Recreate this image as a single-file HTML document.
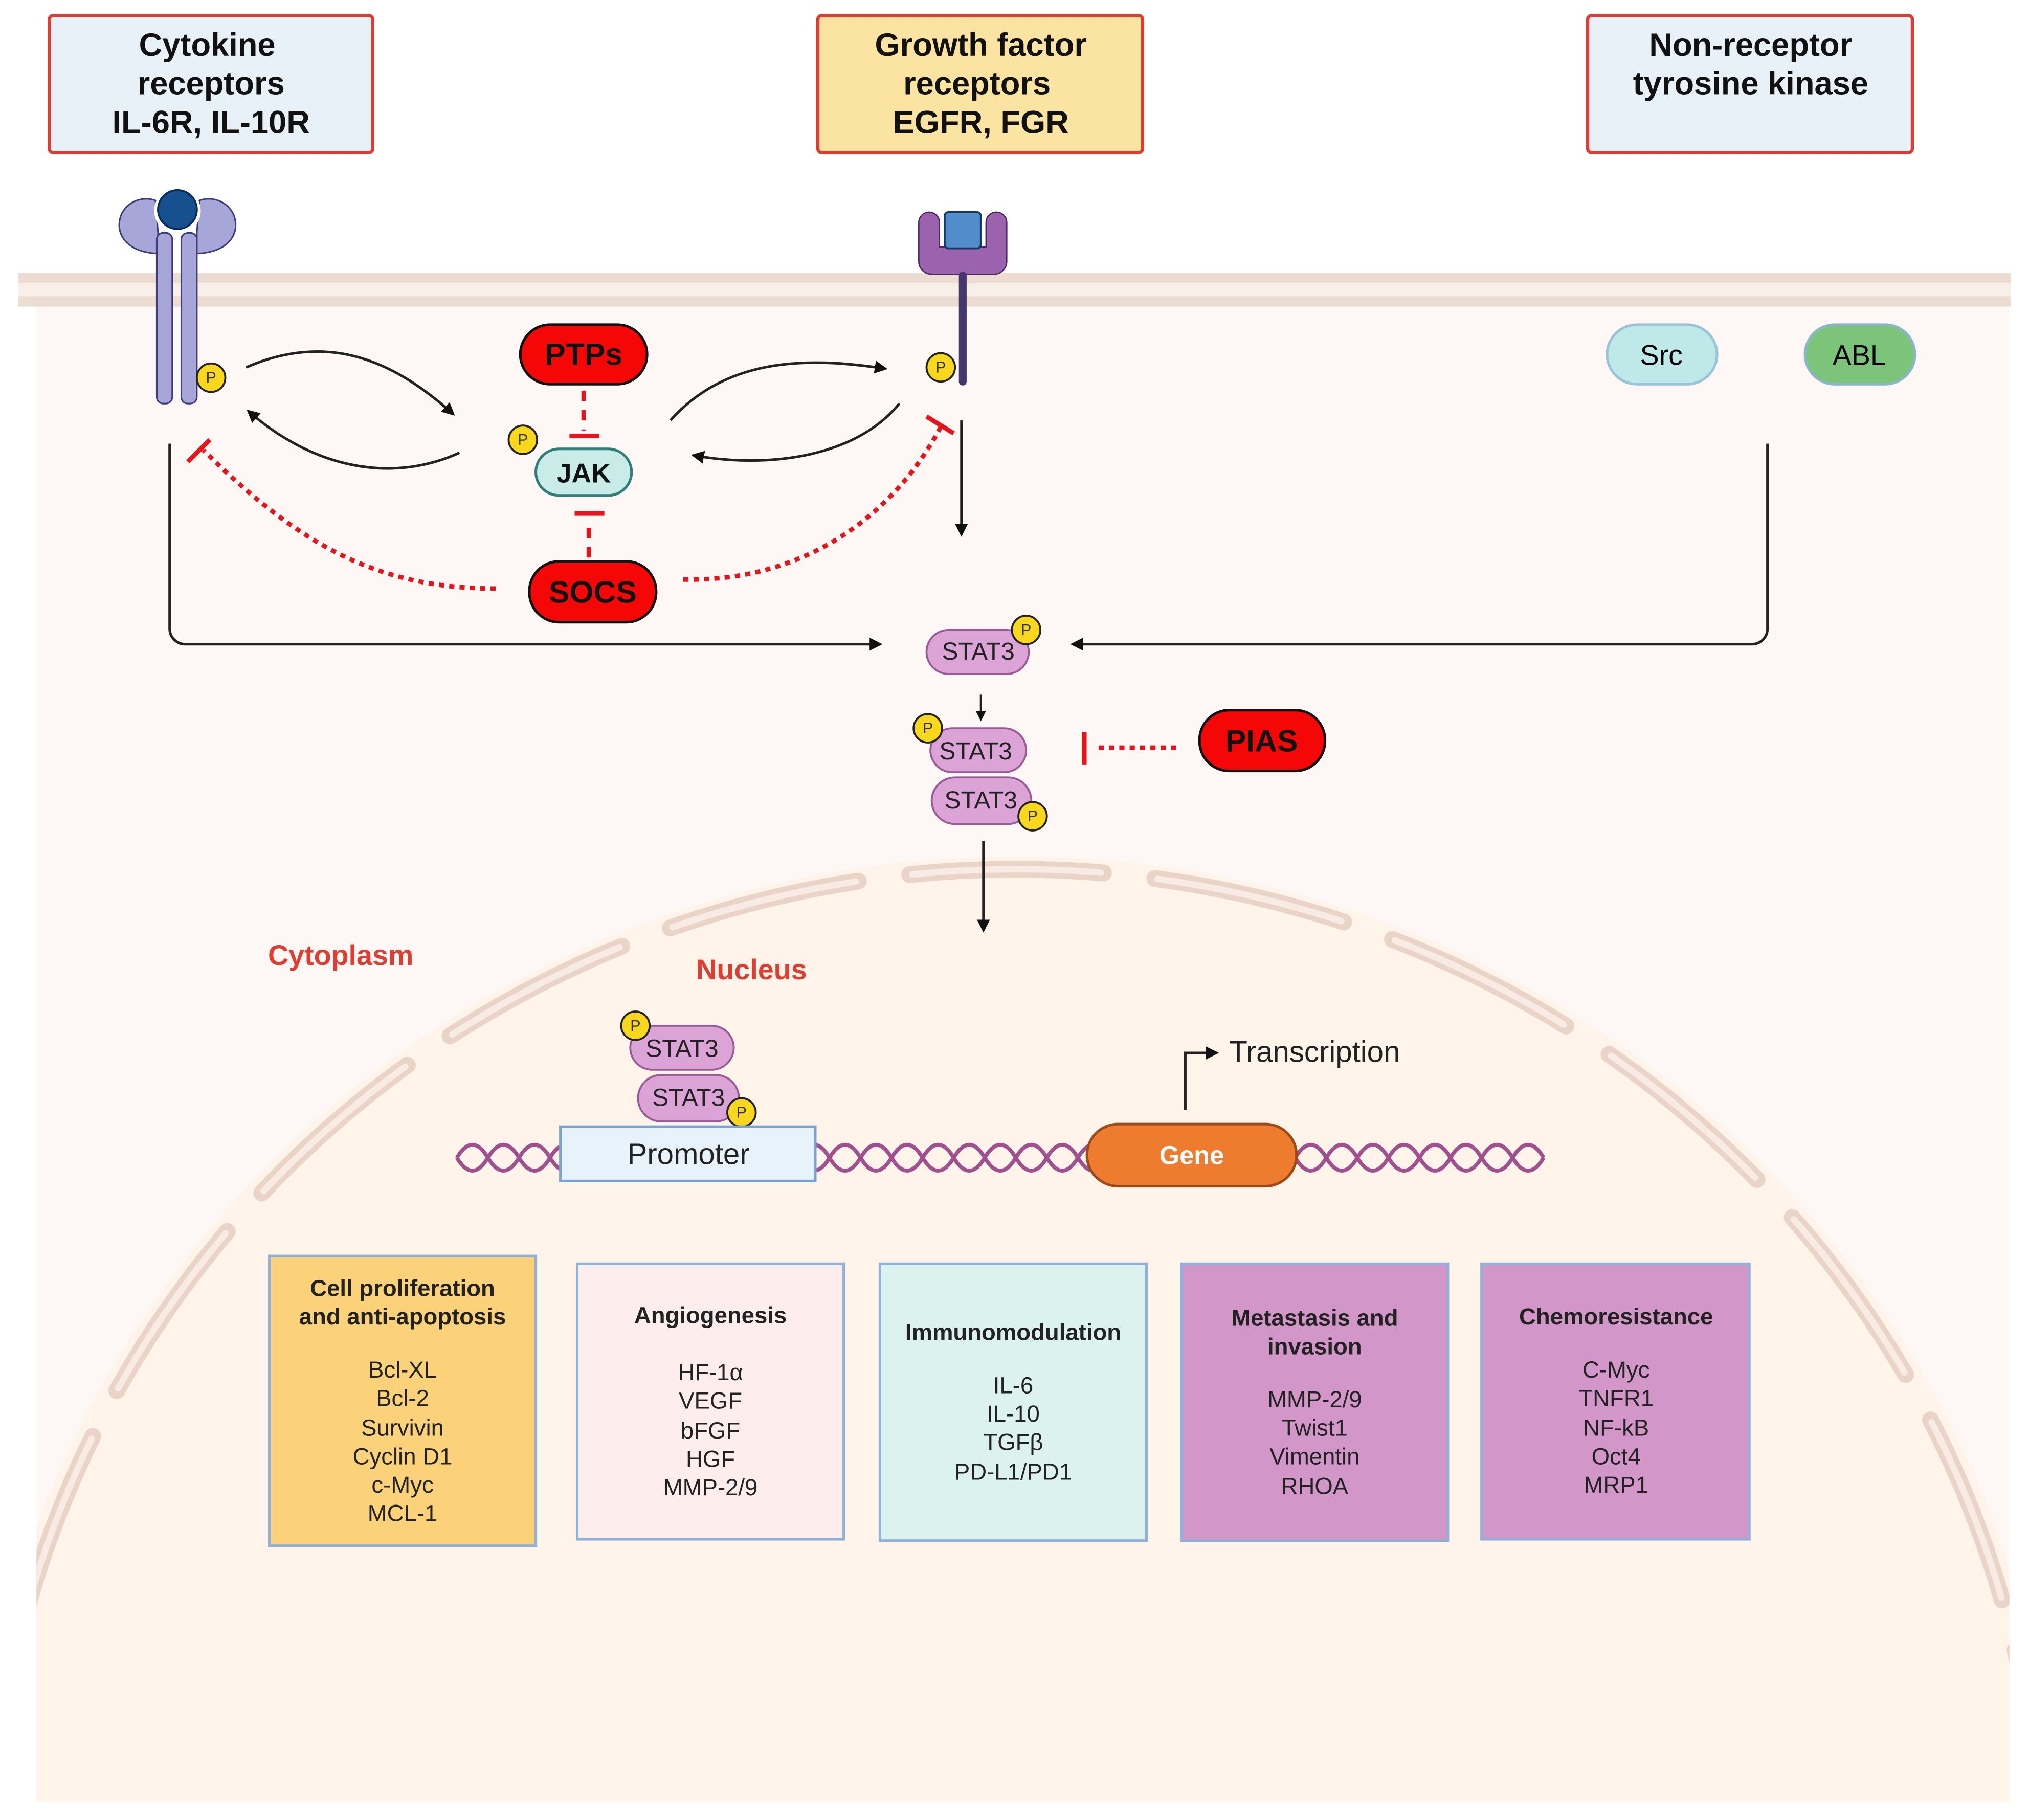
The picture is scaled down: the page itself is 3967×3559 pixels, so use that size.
<!DOCTYPE html>
<html><head><meta charset="utf-8"><style>
html,body{margin:0;padding:0;background:#fff;overflow:hidden;width:3967px;height:3559px;position:relative;}
svg{display:block;position:absolute;left:0;top:0;}
text{font-family:"Liberation Sans",sans-serif;}
</style></head><body>
<svg width="3967" height="3559" viewBox="0 0 1568 1407" xmlns="http://www.w3.org/2000/svg" overflow="hidden">
<defs>
<marker id="ar" viewBox="0 0 10 10" refX="8" refY="5" markerWidth="5" markerHeight="5" orient="auto"><path d="M0,0 L10,5 L0,10 Z" fill="#111"/></marker>
<clipPath id="cy"><rect x="28" y="236" width="1525" height="1157"/></clipPath>
</defs>
<rect width="1568" height="1407" fill="#fff"/>
<rect x="28" y="236" width="1525" height="1157" fill="#fdf8f5"/>
<rect x="14" y="211" width="1540" height="26" fill="#f8efe9"/>
<rect x="14" y="211" width="1540" height="8" fill="#ecdcd2"/>
<rect x="14" y="229" width="1540" height="8" fill="#ecdcd2"/>
<g clip-path="url(#cy)">
<ellipse cx="785" cy="1447" rx="805" ry="785" fill="#fef4ea"/>
<ellipse cx="785" cy="1447" rx="792" ry="775" fill="none" stroke="#ead3c7" stroke-width="13" stroke-linecap="round" stroke-dasharray="150 40"/>
<ellipse cx="785" cy="1447" rx="792" ry="775" fill="none" stroke="#f7ebe4" stroke-width="5" stroke-linecap="round" stroke-dasharray="146 44" stroke-dashoffset="-2"/>
</g>
<rect x="14" y="1393" width="1554" height="14" fill="#fff"/>

<g font-weight="bold" font-size="25" text-anchor="middle" fill="#111">
<rect x="38" y="12" width="250" height="106" rx="3" fill="#e8f0f8" stroke="#e03c31" stroke-width="2.5"/>
<text x="160" y="43">Cytokine</text><text x="163" y="73">receptors</text><text x="163" y="103">IL-6R, IL-10R</text>
<rect x="632" y="12" width="251" height="106" rx="3" fill="#fbe3a2" stroke="#e03c31" stroke-width="2.5"/>
<text x="758" y="43">Growth factor</text><text x="755" y="73">receptors</text><text x="758" y="103">EGFR, FGR</text>
<rect x="1227" y="12" width="251" height="106" rx="3" fill="#e8f0f8" stroke="#e03c31" stroke-width="2.5"/>
<text x="1353" y="43">Non-receptor</text><text x="1353" y="73">tyrosine kinase</text>
</g>

<g stroke="#3f3b78" stroke-width="1.2" fill="#a6a6d8">
<path d="M122,196 C95,195 88,178 94,165 C100,154 112,152 120,155 L122,180 Z"/>
<path d="M152,196 C179,195 186,178 180,165 C174,154 162,152 154,155 L152,180 Z"/>
<rect x="121" y="180" width="12" height="132" rx="5"/>
<rect x="140" y="180" width="12" height="132" rx="5"/>
</g>
<circle cx="137" cy="163" r="18" fill="#fff"/>
<circle cx="137" cy="162" r="15" fill="#16508f" stroke="#0a2c57" stroke-width="1.5"/>
<path d="M710,172 a8,8 0 0 1 16,0 v19 h36 v-19 a8,8 0 0 1 16,0 v30 a10,10 0 0 1 -10,10 h-48 a10,10 0 0 1 -10,-10 Z" fill="#9b62ad" stroke="#4a2560" stroke-width="1"/>
<rect x="730" y="164" width="28" height="28" rx="3" fill="#538ccb" stroke="#133a66" stroke-width="1.5"/>
<rect x="741" y="210" width="6" height="88" rx="3" fill="#43386e"/>

<rect x="1242" y="251" width="85" height="46" rx="23" fill="#bfe9e8" stroke="#98c3d8" stroke-width="2"/>
<text x="1284" y="282" font-size="22" text-anchor="middle">Src</text>
<rect x="1395" y="251" width="85" height="46" rx="23" fill="#7cc47a" stroke="#8ab6c8" stroke-width="2"/>
<text x="1437" y="282" font-size="22" text-anchor="middle">ABL</text>

<g fill="none" stroke="#222" stroke-width="2">
<path d="M190,284 C250,258 300,275 350,320" marker-end="url(#ar)"/>
<path d="M355,350 C300,375 240,360 192,318" marker-end="url(#ar)"/>
<path d="M518,325 C560,278 620,275 684,285" marker-end="url(#ar)"/>
<path d="M695,312 C660,355 590,362 536,352" marker-end="url(#ar)"/>
<path d="M743,325 V413" marker-end="url(#ar)"/>
<path d="M131,343 V486 a12,12 0 0 0 12,12 H680" marker-end="url(#ar)"/>
<path d="M1366,343 V486 a12,12 0 0 1 -12,12 H829" marker-end="url(#ar)"/>
<path d="M758,537 V556" stroke-width="1.6" marker-end="url(#ar)"/>
<path d="M760,650 V719" marker-end="url(#ar)"/>
<path d="M916,858 V814 H940" marker-end="url(#ar)"/>
</g>

<g fill="none" stroke="#e8141c" stroke-width="3.5">
<path d="M451,302 V333" stroke-dasharray="8 7"/>
<path d="M440,337 H463"/>
<path d="M455,431 V402" stroke-dasharray="8 7"/>
<path d="M444,397 H467"/>
<path d="M383,455 C290,455 230,420 157,348" stroke-dasharray="4 4"/>
<path d="M145,357 L162,340"/>
<path d="M528,448 C620,450 690,400 727,330" stroke-dasharray="4 4"/>
<path d="M716,322 L737,335"/>
<path d="M909,578 H845" stroke-dasharray="4 4"/>
<path d="M838,566 V591"/>
</g>

<g font-weight="bold" font-size="24" text-anchor="middle" fill="#111">
<rect x="402" y="251" width="98" height="46" rx="23" fill="#f50707" stroke="#111" stroke-width="2"/>
<text x="451" y="282">PTPs</text>
<rect x="409" y="434" width="98" height="47" rx="23" fill="#f50707" stroke="#111" stroke-width="2"/>
<text x="458" y="466">SOCS</text>
<rect x="927" y="549" width="97" height="47" rx="23" fill="#f50707" stroke="#111" stroke-width="2"/>
<text x="975" y="581">PIAS</text>
<rect x="414" y="347" width="74" height="36" rx="18" fill="#c9ece8" stroke="#2f7d78" stroke-width="2"/>
<text x="451" y="373" font-size="21">JAK</text>
</g>

<g font-size="19" text-anchor="middle" fill="#222">
<rect x="716" y="487" width="79" height="34" rx="17" fill="#dba3d6" stroke="#9a5a95" stroke-width="1.5"/>
<text x="756" y="510">STAT3</text>
<rect x="720" y="601" width="77" height="36" rx="18" fill="#dba3d6" stroke="#9a5a95" stroke-width="1.5"/>
<text x="758" y="625">STAT3</text>
<rect x="719" y="563" width="74" height="34" rx="17" fill="#dba3d6" stroke="#9a5a95" stroke-width="1.5"/>
<text x="754" y="587">STAT3</text>
<rect x="493" y="831" width="78" height="36" rx="18" fill="#dba3d6" stroke="#9a5a95" stroke-width="1.5"/>
<text x="532" y="855">STAT3</text>
<rect x="487" y="793" width="80" height="34" rx="17" fill="#dba3d6" stroke="#9a5a95" stroke-width="1.5"/>
<text x="527" y="817">STAT3</text>
</g>

<g font-size="12" text-anchor="middle" fill="#333">
<g stroke="#222" stroke-width="1.5" fill="#f9d71c">
<circle cx="163" cy="292" r="11"/><circle cx="404" cy="340" r="11"/><circle cx="727" cy="284" r="11"/>
<circle cx="793" cy="487" r="11"/><circle cx="717" cy="563" r="11"/><circle cx="798" cy="631" r="11"/>
<circle cx="491" cy="793" r="11"/><circle cx="573" cy="860" r="11"/>
</g>
<text x="163" y="296">P</text><text x="404" y="344">P</text><text x="727" y="288">P</text>
<text x="793" y="491">P</text><text x="717" y="567">P</text><text x="798" y="635">P</text>
<text x="491" y="797">P</text><text x="573" y="864">P</text>
</g>

<text x="207" y="746" font-size="22" font-weight="bold" fill="#e03c31">Cytoplasm</text>
<text x="538" y="757" font-size="22" font-weight="bold" fill="#e03c31">Nucleus</text>
<text x="950" y="821" font-size="23" fill="#222">Transcription</text>

<g fill="none" stroke="#a0508f" stroke-width="3">
<path d="M353,895 q12,-20 24,0 t24,0 t24,0 t24,0 t24,0 t24,0 t24,0 t24,0 t24,0 t24,0 t24,0 t24,0 t24,0 t24,0 t24,0 t24,0 t24,0 t24,0 t24,0 t24,0 t24,0 t24,0 t24,0 t24,0 t24,0 t24,0 t24,0 t24,0 t24,0 t24,0 t24,0 t24,0 t24,0 t24,0 t24,0"/>
<path d="M353,895 q12,20 24,0 t24,0 t24,0 t24,0 t24,0 t24,0 t24,0 t24,0 t24,0 t24,0 t24,0 t24,0 t24,0 t24,0 t24,0 t24,0 t24,0 t24,0 t24,0 t24,0 t24,0 t24,0 t24,0 t24,0 t24,0 t24,0 t24,0 t24,0 t24,0 t24,0 t24,0 t24,0 t24,0 t24,0 t24,0"/>
</g>
<rect x="433" y="871" width="197" height="42" fill="#e8f2fb" stroke="#7aa3d0" stroke-width="2"/>
<text x="532" y="900" font-size="23" text-anchor="middle" fill="#222">Promoter</text>
<rect x="840" y="869" width="162" height="48" rx="24" fill="#ef7b2e" stroke="#9b4a1a" stroke-width="2"/>
<text x="921" y="900" font-size="20" font-weight="bold" text-anchor="middle" fill="#fff">Gene</text>

<g stroke="#8fb0dc" stroke-width="2">
<rect x="208" y="971" width="206" height="224" fill="#fbd27a"/>
<rect x="446" y="977" width="206" height="213" fill="#fdeded"/>
<rect x="680" y="977" width="206" height="214" fill="#dcf2ee"/>
<rect x="913" y="977" width="206" height="214" fill="#d396c8"/>
<rect x="1145" y="977" width="207" height="213" fill="#d396c8"/>
</g>
<g font-size="18" text-anchor="middle" fill="#222">
<g font-weight="bold">
<text x="311" y="1002">Cell proliferation</text><text x="311" y="1024">and anti-apoptosis</text>
<text x="549" y="1023">Angiogenesis</text>
<text x="783" y="1036">Immunomodulation</text>
<text x="1016" y="1025">Metastasis and</text><text x="1016" y="1047">invasion</text>
<text x="1249" y="1024">Chemoresistance</text>
</g>
<text x="311" y="1065">Bcl-XL</text><text x="311" y="1087">Bcl-2</text><text x="311" y="1110">Survivin</text><text x="311" y="1132">Cyclin D1</text><text x="311" y="1154">c-Myc</text><text x="311" y="1176">MCL-1</text>
<text x="549" y="1067">HF-1α</text><text x="549" y="1089">VEGF</text><text x="549" y="1112">bFGF</text><text x="549" y="1134">HGF</text><text x="549" y="1156">MMP-2/9</text>
<text x="783" y="1077">IL-6</text><text x="783" y="1099">IL-10</text><text x="783" y="1121">TGFβ</text><text x="783" y="1144">PD-L1/PD1</text>
<text x="1016" y="1088">MMP-2/9</text><text x="1016" y="1110">Twist1</text><text x="1016" y="1132">Vimentin</text><text x="1016" y="1155">RHOA</text>
<text x="1249" y="1065">C-Myc</text><text x="1249" y="1087">TNFR1</text><text x="1249" y="1110">NF-kB</text><text x="1249" y="1132">Oct4</text><text x="1249" y="1154">MRP1</text>
</g>
</svg>
</body></html>
